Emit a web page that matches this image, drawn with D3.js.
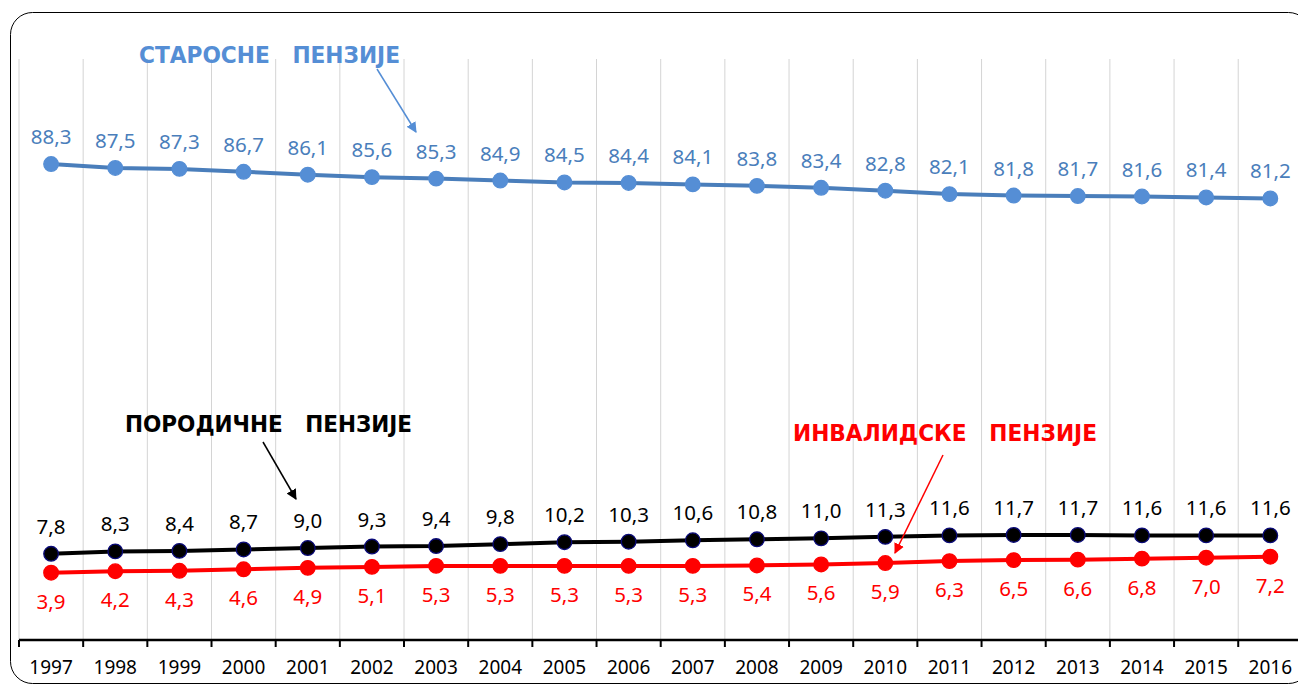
<!DOCTYPE html>
<html>
<head>
<meta charset="utf-8">
<script src="https://cdn.jsdelivr.net/npm/d3@7"></script>
<style>
  body { margin: 0; background: #fff; }
  svg { display: block; font-family: "Noto Sans", "DejaVu Sans", sans-serif; }
</style>
</head>
<body>
<div id="chart"></div>
<script>
var svgWidth = 1298;
var svgHeight = 685;

// data
var years = ["1997", "1998", "1999", "2000", "2001", "2002", "2003", "2004", "2005", "2006",
             "2007", "2008", "2009", "2010", "2011", "2012", "2013", "2014", "2015", "2016"];
var starosne = [88.3, 87.5, 87.3, 86.7, 86.1, 85.6, 85.3, 84.9, 84.5, 84.4,
                84.1, 83.8, 83.4, 82.8, 82.1, 81.8, 81.7, 81.6, 81.4, 81.2];
var porodicne = [7.8, 8.3, 8.4, 8.7, 9.0, 9.3, 9.4, 9.8, 10.2, 10.3,
                 10.6, 10.8, 11.0, 11.3, 11.6, 11.7, 11.7, 11.6, 11.6, 11.6];
var invalidske = [3.9, 4.2, 4.3, 4.6, 4.9, 5.1, 5.3, 5.3, 5.3, 5.3,
                  5.3, 5.4, 5.6, 5.9, 6.3, 6.5, 6.6, 6.8, 7.0, 7.2];
var seriesNames = ["СТАРОСНЕ   ПЕНЗИЈЕ", "ПОРОДИЧНЕ   ПЕНЗИЈЕ", "ИНВАЛИДСКЕ   ПЕНЗИЈЕ"];

var plot = { left: 19, right: 1302.4, top: 59, bottom: 640 };

var svg = d3.select("#chart").append("svg")
  .attr("width", svgWidth)
  .attr("height", svgHeight);

// outer rounded frame
svg.append("rect")
  .attr("x", 10.5).attr("y", 12.5)
  .attr("width", 1300).attr("height", 671)
  .attr("rx", 22).attr("ry", 22)
  .attr("fill", "#fff")
  .attr("stroke", "#000")
  .attr("stroke-width", 1);

var x = d3.scaleBand()
  .domain(years)
  .range([plot.left, plot.right])
  .padding(0);

var y = d3.scaleLinear()
  .domain([-10, 110])
  .range([plot.bottom, plot.top]);

var cx = d => x(d) + x.bandwidth() / 2;
var fmt = v => d3.format(".1f")(v).replace(".", ",");

// vertical gridlines at category boundaries
var bounds = years.map(d => x(d)).concat([plot.right]);
svg.append("g")
  .selectAll("line")
  .data(bounds)
  .enter().append("line")
  .attr("x1", d => d).attr("x2", d => d)
  .attr("y1", plot.top).attr("y2", plot.bottom)
  .attr("stroke", "#d4d4d4")
  .attr("stroke-width", 1);

// x axis
var xAxis = svg.append("g")
  .attr("transform", `translate(0, ${plot.bottom})`)
  .call(d3.axisBottom(x).tickSize(0).tickPadding(21));
xAxis.select(".domain").remove();
xAxis.selectAll("text")
  .attr("font-family", "Noto Sans, DejaVu Sans, sans-serif")
  .attr("font-size", 19)
  .attr("fill", "#000");

xAxis.append("line")
  .attr("x1", plot.left).attr("x2", plot.right)
  .attr("y1", 0).attr("y2", 0)
  .attr("stroke", "#000")
  .attr("stroke-width", 2.5);
xAxis.selectAll(".btick")
  .data(bounds)
  .enter().append("line")
  .attr("class", "btick")
  .attr("x1", d => d).attr("x2", d => d)
  .attr("y1", 0).attr("y2", 7)
  .attr("stroke", "#000")
  .attr("stroke-width", 2);

function drawSeries(values, cfg) {
  var data = years.map((yr, i) => ({ year: yr, value: values[i] }));
  var line = d3.line()
    .x(d => cx(d.year))
    .y(d => y(d.value));

  svg.append("path")
    .datum(data)
    .attr("d", line)
    .attr("fill", "none")
    .attr("stroke", cfg.lineColor)
    .attr("stroke-width", 4)
    .attr("stroke-linejoin", "round");

  svg.append("g")
    .selectAll("circle")
    .data(data)
    .enter().append("circle")
    .attr("cx", d => cx(d.year))
    .attr("cy", d => y(d.value))
    .attr("r", 7.3)
    .attr("fill", cfg.markerFill)
    .attr("stroke", cfg.markerStroke)
    .attr("stroke-width", 1.3);

  svg.append("g")
    .selectAll("text")
    .data(data)
    .enter().append("text")
    .attr("x", d => cx(d.year))
    .attr("y", d => y(d.value) + cfg.labelDy)
    .attr("text-anchor", "middle")
    .attr("font-size", 20.5)
    .attr("fill", cfg.labelColor)
    .text(d => fmt(d.value));
}

drawSeries(starosne, { lineColor: "#4a7ebb", markerFill: "#558ed5", markerStroke: "#558ed5", labelColor: "#4a7ebb", labelDy: -20 });
drawSeries(porodicne, { lineColor: "#000", markerFill: "#000", markerStroke: "#0a0a78", labelColor: "#000", labelDy: -20 });
drawSeries(invalidske, { lineColor: "#ff0000", markerFill: "#ff0000", markerStroke: "#ff0000", labelColor: "#ff0000", labelDy: 36 });

// series titles with arrows
var defs = svg.append("defs");
function marker(id, color) {
  defs.append("marker")
    .attr("id", id)
    .attr("viewBox", "0 0 10 10")
    .attr("refX", 9).attr("refY", 5)
    .attr("markerWidth", 7).attr("markerHeight", 7)
    .attr("markerUnits", "strokeWidth")
    .attr("orient", "auto")
    .append("path")
    .attr("d", "M0,0 L10,5 L0,10 z")
    .attr("fill", color);
}
marker("arBlue", "#558ed5");
marker("arBlack", "#000");
marker("arRed", "#ff0000");

var titles = [
  { text: seriesNames[0], x: 139, y: 63, width: 261, color: "#558ed5",
    arrow: [377, 69, 416, 132], mk: "arBlue" },
  { text: seriesNames[1], x: 125, y: 432, width: 287, color: "#000",
    arrow: [263, 442, 296, 499], mk: "arBlack" },
  { text: seriesNames[2], x: 793, y: 441, width: 304, color: "#ff0000",
    arrow: [943, 455, 895, 553], mk: "arRed" }
];

titles.forEach(function(t) {
  svg.append("text")
    .attr("x", t.x).attr("y", t.y)
    .attr("font-family", "DejaVu Sans Condensed, DejaVu Sans, sans-serif")
    .attr("font-size", 23)
    .attr("font-weight", "bold")
    .attr("fill", t.color)
    .attr("textLength", t.width)
    .attr("lengthAdjust", "spacingAndGlyphs")
    .style("white-space", "pre")
    .text(t.text);

  svg.append("line")
    .attr("x1", t.arrow[0]).attr("y1", t.arrow[1])
    .attr("x2", t.arrow[2]).attr("y2", t.arrow[3])
    .attr("stroke", t.color)
    .attr("stroke-width", 1.5)
    .attr("marker-end", `url(#${t.mk})`);
});
</script>
</body>
</html>
